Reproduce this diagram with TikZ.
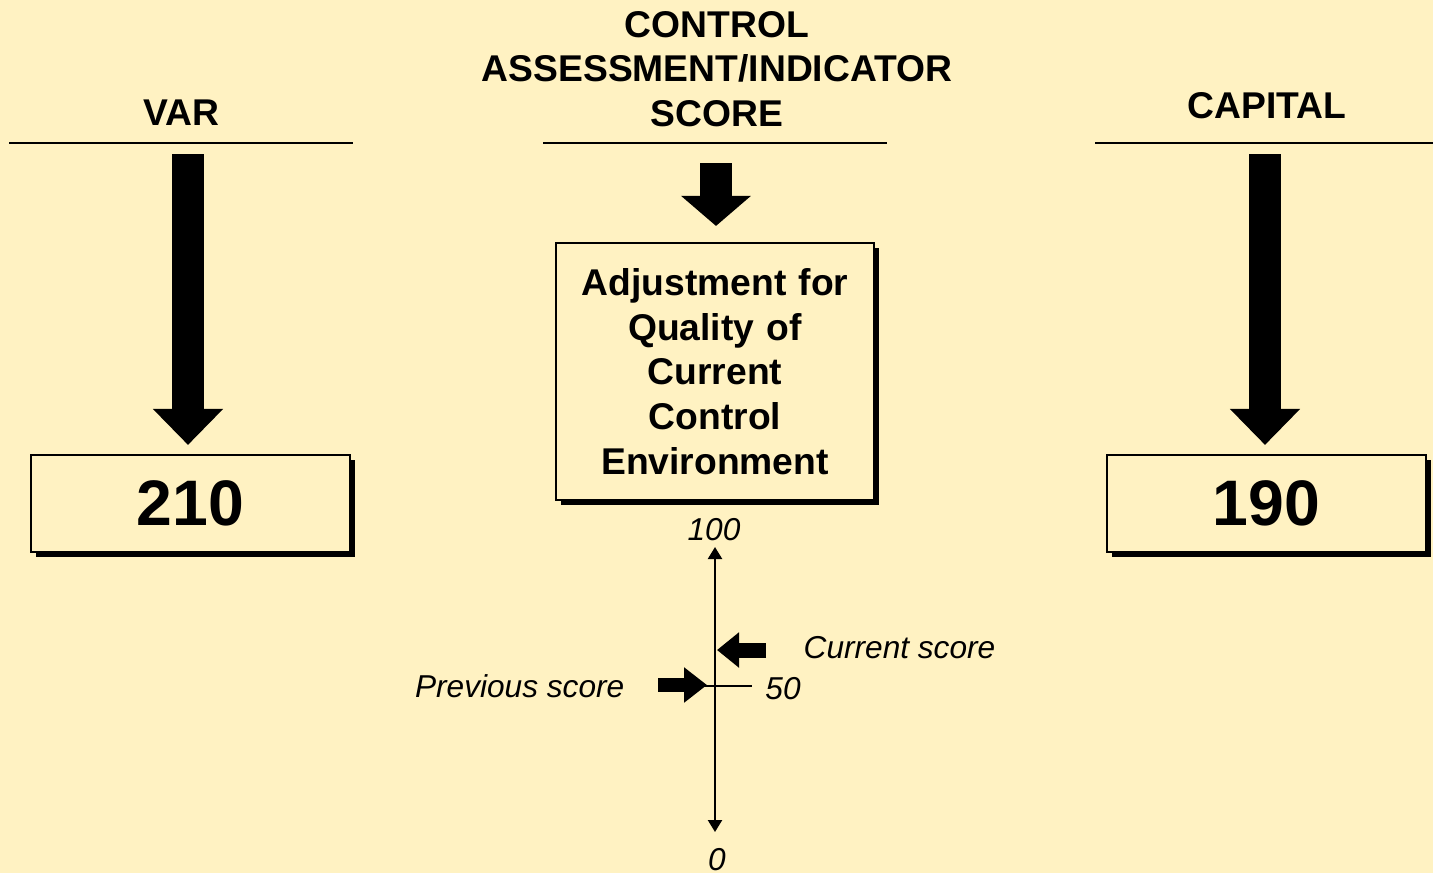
\documentclass[tikz,border=0pt]{standalone}
\usepackage{fontspec}
\setmainfont{Liberation Sans}
\usepackage{tikz}
\usetikzlibrary{arrows.meta,shadows}
\definecolor{paper}{RGB}{255,242,194}
\newcommand{\headfont}{\fontsize{10.6}{12.7}\selectfont\bfseries}
\newcommand{\bigfont}{\fontsize{18.3}{22}\selectfont\bfseries}
\newcommand{\smallit}{\fontsize{9}{11}\selectfont\itshape}
\tikzset{
  head/.style={font=\headfont, align=center, inner sep=0pt},
  rule/.style={line width=0.65pt},
  blockarrow/.style={line width=3.2mm, -{Triangle[length=3.6mm,width=6.8mm]}},
  shadowbox/.style={draw, line width=0.6pt, fill=paper, inner sep=0pt,
    drop shadow={shadow xshift=0.5mm, shadow yshift=-0.5mm, fill=black, opacity=1}},
  numbox/.style={shadowbox, minimum width=31.9mm, minimum height=9.7mm, font=\bigfont},
  tag/.style={font=\smallit, inner sep=0pt},
  pointer/.style={line width=1.5mm, -{Triangle[length=2.2mm,width=3.4mm]}}
}

\begin{document}
\begin{tikzpicture}[x=0.1mm, y=-0.1mm]
  \fill[paper] (0,0) rectangle (1433,873);
  \useasboundingbox (0,0) rectangle (1433,873);

  % headings and rules
  \node[head] (var) at (181,113) {VAR};
  \node[head] (ctl) at (717,69) {CONTROL\\ASSESSMENT/INDICATOR\\SCORE};
  \node[head] (cap) at (1267,106) {CAPITAL};
  \draw[rule] (9,143) -- (353,143);
  \draw[rule] (543,143) -- (887,143);
  \draw[rule] (1095,143) -- (1433,143);

  % boxes
  \node[numbox] (left) at (190.5,503.5) {210};
  \node[numbox] (right) at (1266.5,503.5) {190};
  \node[shadowbox, minimum width=31.8mm, minimum height=25.7mm,
    text width=30mm, align=center, font=\headfont] (adj) at (715,371.5)
    {Adjustment for\\Quality of\\Current\\Control\\Environment};

  % big arrows
  \coordinate (vtop) at (188,154);
  \coordinate (ctop) at (716,163);
  \coordinate (rtop) at (1265,154);
  \draw[blockarrow] (vtop) -- ([yshift=0.9mm]left.north -| vtop);
  \draw[blockarrow, -{Triangle[length=3.0mm,width=6.8mm]}] (ctop) -- ([yshift=1.6mm]adj.north -| ctop);
  \draw[blockarrow] (rtop) -- ([yshift=0.9mm]right.north -| rtop);

  % score axis
  \node[tag] (top) at (714,530) {100};
  \node[tag] (bot) at (717,860) {0};
  \coordinate (a100) at (715,547);
  \coordinate (a0) at (715,832);
  \draw[line width=0.65pt, {Triangle[length=1.2mm,width=1.4mm]}-{Triangle[length=1.2mm,width=1.4mm]}] (a100) -- (a0);
  \coordinate (mid) at (715,686);
  \draw[line width=0.65pt] (700,686) -- (752,686);
  \node[tag] (fifty) at (783,689) {50};

  % score pointers
  \node[tag, anchor=west] (cur) at (803,648) {Current score};
  \node[tag, anchor=east] (prev) at (625,686) {Previous score};
  \coordinate (cstart) at (766,650);
  \coordinate (ctip) at (717,650);
  \coordinate (pstart) at (658,685);
  \coordinate (ptip) at (707,685);
  \draw[pointer] (cstart) -- (ctip);
  \draw[pointer, line width=1.4mm, -{Triangle[length=2.3mm,width=3.4mm]}] (pstart) -- (ptip);
\end{tikzpicture}
\end{document}
